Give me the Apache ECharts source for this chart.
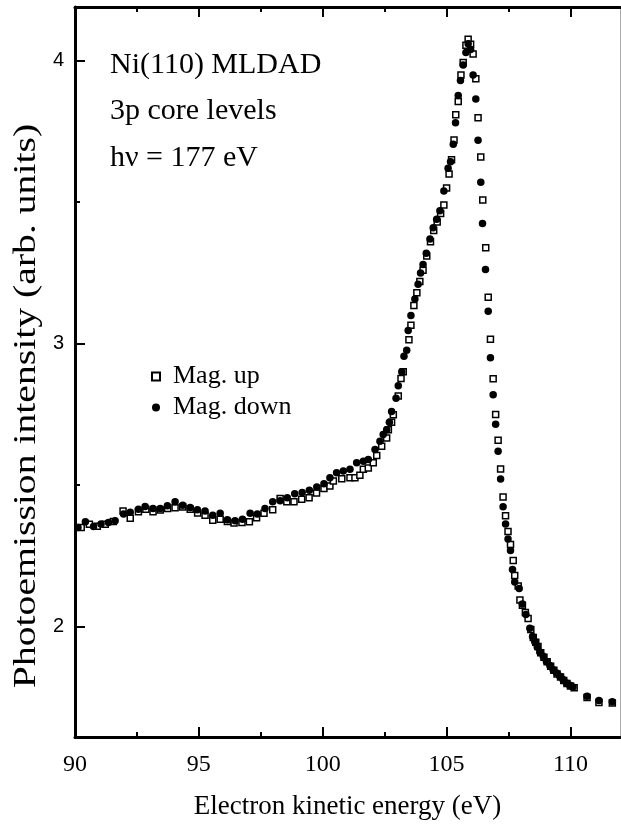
<!DOCTYPE html>
<html>
<head>
<meta charset="utf-8">
<script src="https://cdn.jsdelivr.net/npm/echarts@6/dist/echarts.min.js"></script>
<style>
  html, body { margin: 0; padding: 0; background: #fff; }
  #chart { width: 621px; height: 825px; }
</style>
</head>
<body>
<div id="chart"></div>
<script>
var energyUp = [90.25, 90.58, 90.90, 91.22, 91.55, 91.94, 92.23, 92.56, 92.86, 93.15,
  93.44, 93.74, 94.04, 94.35, 94.65, 94.95, 95.25, 95.56, 95.86, 96.15,
  96.42, 96.74, 97.04, 97.33, 97.63, 97.98, 98.28, 98.55, 98.84, 99.15,
  99.45, 99.75, 100.05, 100.29, 100.43, 100.77, 101.10, 101.30, 101.50, 101.64,
  101.84, 102.04, 102.18, 102.38, 102.58, 102.65, 102.78, 102.85, 103.05, 103.16,
  103.25, 103.48, 103.56, 103.68, 103.80, 103.92, 104.05, 104.20, 104.35, 104.48,
  104.62, 104.76, 104.89, 105.00, 105.10, 105.20, 105.30, 105.37, 105.47, 105.58,
  105.67, 105.78, 105.87, 105.97, 106.07, 106.18, 106.27, 106.38, 106.46, 106.58,
  106.68, 106.77, 106.88, 106.98, 107.08, 107.18, 107.28, 107.38, 107.48, 107.58,
  107.69, 107.75, 107.89, 107.96, 108.06, 108.18, 108.29, 108.40, 108.50, 108.60,
  108.69, 108.80, 108.93, 109.06, 109.20, 109.33, 109.46, 109.60, 109.73, 109.86,
  110.00, 110.15, 110.67, 111.15, 111.69];
var intensityUp = [2.350, 2.362, 2.355, 2.362, 2.372, 2.409, 2.383, 2.406, 2.415, 2.406,
  2.412, 2.418, 2.420, 2.423, 2.415, 2.402, 2.394, 2.376, 2.380, 2.372,
  2.366, 2.368, 2.371, 2.385, 2.401, 2.413, 2.453, 2.441, 2.441, 2.450,
  2.456, 2.472, 2.488, 2.497, 2.515, 2.523, 2.526, 2.526, 2.535, 2.556,
  2.561, 2.579, 2.605, 2.638, 2.667, 2.696, 2.722, 2.749, 2.815, 2.877,
  2.901, 3.014, 3.065, 3.135, 3.180, 3.220, 3.260, 3.310, 3.360, 3.400,
  3.430, 3.460, 3.490, 3.550, 3.600, 3.650, 3.720, 3.809, 3.856, 3.950,
  3.994, 4.055, 4.076, 4.058, 4.024, 3.936, 3.799, 3.660, 3.508, 3.339,
  3.164, 3.016, 2.876, 2.750, 2.659, 2.557, 2.458, 2.392, 2.336, 2.290,
  2.234, 2.181, 2.144, 2.094, 2.076, 2.050, 2.029, 1.990, 1.962, 1.945,
  1.930, 1.908, 1.892, 1.876, 1.860, 1.846, 1.833, 1.822, 1.810, 1.799,
  1.790, 1.784, 1.750, 1.732, 1.730];

var energyDown = [90.12, 90.42, 90.75, 91.05, 91.35, 91.62, 91.96, 92.23, 92.56, 92.83,
  93.15, 93.44, 93.73, 94.04, 94.35, 94.65, 94.94, 95.25, 95.56, 95.86,
  96.15, 96.46, 96.76, 97.07, 97.36, 97.67, 97.98, 98.28, 98.57, 98.87,
  99.17, 99.46, 99.76, 100.05, 100.29, 100.56, 100.83, 101.10, 101.37, 101.64,
  101.84, 102.11, 102.31, 102.44, 102.58, 102.69, 102.78, 102.96, 103.05, 103.19,
  103.28, 103.39, 103.45, 103.56, 103.72, 103.85, 103.95, 104.05, 104.18, 104.33,
  104.46, 104.60, 104.73, 104.89, 105.06, 105.16, 105.27, 105.36, 105.47, 105.56,
  105.67, 105.78, 105.87, 105.97, 106.07, 106.18, 106.27, 106.38, 106.45, 106.57,
  106.68, 106.77, 106.88, 106.98, 107.08, 107.18, 107.28, 107.38, 107.48, 107.58,
  107.66, 107.75, 107.93, 108.06, 108.20, 108.36, 108.47, 108.56, 108.66, 108.76,
  108.90, 109.03, 109.17, 109.30, 109.44, 109.57, 109.70, 109.84, 109.97, 110.10,
  110.67, 111.15, 111.69];
var intensityDown = [2.350, 2.371, 2.354, 2.363, 2.368, 2.374, 2.398, 2.404, 2.415, 2.425,
  2.418, 2.418, 2.427, 2.441, 2.429, 2.421, 2.413, 2.409, 2.394, 2.401,
  2.378, 2.374, 2.380, 2.401, 2.398, 2.418, 2.441, 2.445, 2.456, 2.470,
  2.474, 2.482, 2.494, 2.505, 2.526, 2.544, 2.550, 2.556, 2.579, 2.585,
  2.591, 2.626, 2.655, 2.679, 2.696, 2.722, 2.760, 2.807, 2.851, 2.901,
  2.956, 2.977, 3.047, 3.100, 3.158, 3.210, 3.250, 3.280, 3.320, 3.370,
  3.410, 3.440, 3.470, 3.540, 3.620, 3.643, 3.705, 3.781, 3.877, 3.930,
  3.985, 4.029, 4.060, 4.040, 3.950, 3.865, 3.719, 3.571, 3.425, 3.262,
  3.115, 2.950, 2.820, 2.715, 2.620, 2.522, 2.424, 2.363, 2.310, 2.269,
  2.202, 2.158, 2.135, 2.080, 2.043, 1.994, 1.965, 1.947, 1.928, 1.910,
  1.895, 1.877, 1.863, 1.848, 1.836, 1.825, 1.813, 1.801, 1.793, 1.787,
  1.754, 1.739, 1.735];

var xMajorTicks = [90, 95, 100, 105, 110];
var xMinorTicks = [92.5, 97.5, 102.5, 107.5];
var yMajorTicks = [2, 3, 4];
var yMinorTicks = [2.5, 3.5];
var annotationLines = ['Ni(110) MLDAD', '3p core levels', 'hν = 177 eV'];

var serif = 'Liberation Serif';

function pairs(xs, ys) {
  return xs.map(function (x, i) { return [x, ys[i]]; });
}

// one axis per tick size (major / minor), all sharing the same range
function tickAxis(pos, ticks, len, showLine, showLabel, isX) {
  var ax = {
    type: 'value',
    position: pos,
    min: isX ? 90 : 1.61,
    max: isX ? 112 : 4.19,
    axisLine: { show: showLine, lineStyle: { color: '#000', width: 3 } },
    axisTick: { inside: true, length: len, customValues: ticks, lineStyle: { color: '#000', width: 2 } },
    axisLabel: { show: false },
    splitLine: { show: false }
  };
  if (showLabel) {
    ax.axisLabel = isX
      ? { show: true, customValues: ticks, margin: 16, color: '#000', fontFamily: serif, fontSize: 24 }
      : { show: true, customValues: ticks, margin: 11, color: '#000', fontFamily: 'Liberation Sans', fontSize: 20 };
  }
  return ax;
}

var chartDom = document.getElementById('chart');
var myChart = echarts.init(chartDom);
var option;

var xBottom = tickAxis('bottom', xMajorTicks, 10, true, true, true);
xBottom.name = 'Electron kinetic energy (eV)';
xBottom.nameLocation = 'middle';
xBottom.nameGap = 56;
xBottom.nameTextStyle = { color: '#000', fontFamily: serif, fontSize: 27 };

var yRight = {
  type: 'value', position: 'right', min: 1.61, max: 4.19,
  axisLine: { show: true, lineStyle: { color: '#aaa', width: 1 } },
  axisTick: { show: false }, axisLabel: { show: false }, splitLine: { show: false }
};

option = {
  animation: false,
  backgroundColor: '#fff',
  grid: { left: 75, right: 1, top: 7, bottom: 82 },
  xAxis: [
    xBottom,
    tickAxis('bottom', xMinorTicks, 5, false, false, true),
    tickAxis('top', xMajorTicks, 10, true, false, true),
    tickAxis('top', xMinorTicks, 5, false, false, true)
  ],
  yAxis: [
    tickAxis('left', yMajorTicks, 10, true, true, false),
    tickAxis('left', yMinorTicks, 5, false, false, false),
    yRight
  ],
  legend: {
    orient: 'vertical',
    left: 146,
    top: 358,
    itemWidth: 8,
    itemHeight: 8,
    itemGap: 4,
    textStyle: { color: '#000', fontFamily: serif, fontSize: 26, lineHeight: 27, padding: [0, 0, 0, 8] },
    data: ['Mag. up', 'Mag. down']
  },
  series: [
    {
      name: 'Mag. up',
      type: 'scatter',
      symbol: 'rect',
      symbolSize: 6,
      itemStyle: { color: '#fff', borderColor: '#000', borderWidth: 1.5, opacity: 1 },
      data: pairs(energyUp, intensityUp)
    },
    {
      name: 'Mag. down',
      type: 'scatter',
      symbol: 'circle',
      symbolSize: 7.5,
      itemStyle: { color: '#000', opacity: 1 },
      data: pairs(energyDown, intensityDown)
    }
  ],
  graphic: [
    {
      type: 'text', x: 27, y: 406, rotation: Math.PI / 2, scaleX: 1.28,
      style: { text: 'Photoemission intensity (arb. units)', font: '31px "Liberation Serif"', fill: '#000', align: 'center', verticalAlign: 'middle' }
    },
    { type: 'text', x: 110, y: 65, style: { text: annotationLines[0], font: '30px "Liberation Serif"', fill: '#000', verticalAlign: 'middle' } },
    { type: 'text', x: 110, y: 111, style: { text: annotationLines[1], font: '30px "Liberation Serif"', fill: '#000', verticalAlign: 'middle' } },
    { type: 'text', x: 110, y: 158, style: { text: annotationLines[2], font: '30px "Liberation Serif"', fill: '#000', verticalAlign: 'middle' } }
  ]
};

option && myChart.setOption(option);
window.addEventListener('resize', function () {
  myChart.resize();
});
</script>
</body>
</html>
